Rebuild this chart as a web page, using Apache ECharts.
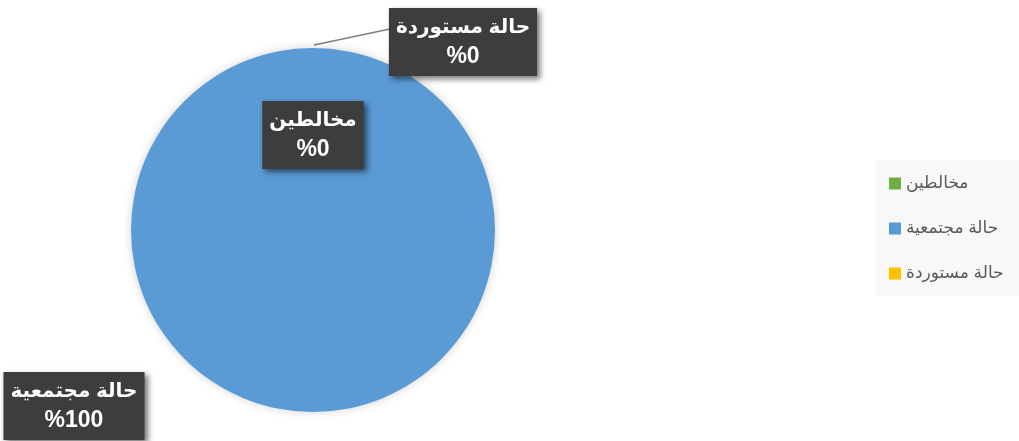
<!DOCTYPE html>
<html>
<head>
<meta charset="utf-8">
<script src="https://cdn.jsdelivr.net/npm/echarts@6/dist/echarts.min.js"></script>
<style>
html, body { margin: 0; padding: 0; background: #fff; }
#main { width: 1019px; height: 441px; }
</style>
</head>
<body>
<div id="main"></div>
<script>
// categories and values
var categories = ['مخالطين', 'حالة مجتمعية', 'حالة مستوردة']
var values = [0, 100, 0]
var colors = ['#70ad47', '#5b9bd5', '#ffc000']

// where each label box sits (centre), index follows categories
var labelSpots = [[313, 135], [74, 406], [463, 42]]

var chart = echarts.init(document.getElementById('main'))

var pieData = categories.map(function (name, i) {
  return {
    name: name,
    value: values[i],
    itemStyle: { color: colors[i] },
    labelLine: { show: i === 2 }
  }
})

var font = 'Arial, "DejaVu Sans", sans-serif'

var option = {
  animation: false,
  legend: {
    orient: 'vertical',
    left: 876,
    top: 160,
    padding: [15, 24, 14, 13],
    backgroundColor: '#f8f8f8',
    itemWidth: 12,
    itemHeight: 12,
    itemGap: 28,
    icon: 'rect',
    textStyle: { color: '#595959', fontSize: 17, fontFamily: font },
    data: categories
  },
  series: [
    {
      type: 'pie',
      center: [313, 230],
      radius: 182,
      startAngle: 90,
      clockwise: true,
      minAngle: 0,
      data: pieData,
      itemStyle: {
        borderWidth: 0,
        shadowBlur: 10,
        shadowColor: 'rgba(0,0,0,0.18)'
      },
      label: {
        show: true,
        formatter: function (p) {
          return '{n|' + p.name + '}\n{v|%' + Math.round(p.percent) + '}'
        },
        rich: {
          n: { color: '#fff', fontSize: 20, fontWeight: 'bold', fontFamily: font, lineHeight: 30, align: 'center' },
          v: { color: '#fff', fontSize: 23, fontWeight: 'bold', fontFamily: font, lineHeight: 30, align: 'center' }
        },
        align: 'center',
        backgroundColor: '#3d3d3d',
        padding: [4, 7, 4, 7],
        shadowBlur: 6,
        shadowColor: 'rgba(0,0,0,0.55)',
        shadowOffsetX: 3,
        shadowOffsetY: 3
      },
      labelLine: {
        show: true,
        lineStyle: { color: '#7f7f7f', width: 1.5 }
      },
      labelLayout: function (params) {
        var s = labelSpots[params.dataIndex]
        var res = { x: s[0], y: s[1], align: 'center', verticalAlign: 'middle' }
        if (params.dataIndex === 2) {
          res.labelLinePoints = [[314, 45], [390, 29], [395, 29]]
        }
        return res
      }
    }
  ]
}

chart.setOption(option)
</script>
</body>
</html>
